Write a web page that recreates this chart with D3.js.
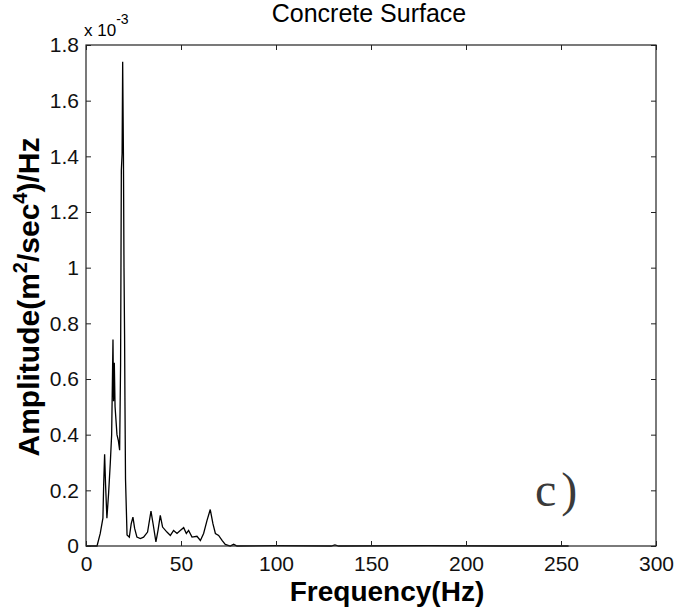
<!DOCTYPE html>
<html>
<head>
<meta charset="utf-8">
<script src="https://cdn.jsdelivr.net/npm/d3@7"></script>
<style>
	body { margin: 0; background: #fff; }
	svg text { font-family: "Liberation Sans", Arial, sans-serif; }
</style>
</head>
<body>
<div id="chart"></div>
<script>
// Frequency (Hz) and amplitude (x 1e-3 m^2/sec^4/Hz)
const freq = [0, 5.8, 7.5, 8.9, 9.3, 9.8, 10.3, 11.0, 11.9, 12.8, 13.5, 14.2, 14.5, 14.9, 15.3, 16.3, 17.0, 17.7,
	18.2, 18.6, 19.0, 19.3, 19.7, 20.0, 20.3, 20.5, 20.8, 21.6, 22.8, 23.8, 24.7, 25.6, 26.8, 28.6, 30.3, 32.4,
	34.2, 35.3, 36.8, 37.9, 39.1, 40.3, 42.6, 44.4, 46.1, 47.9, 49.6, 51.4, 52.8, 54.0, 55.8, 58.4, 60.2, 61.9,
	63.7, 65.4, 66.8, 68.1, 69.8, 71.6, 73.3, 75.9, 77.7, 79.5, 100, 129, 131, 133, 180, 220, 254]
const amp = [0, 0, 0.045, 0.10, 0.22, 0.33, 0.22, 0.10, 0.19, 0.30, 0.40, 0.742, 0.52, 0.658, 0.50, 0.40, 0.38, 0.344,
	0.65, 1.35, 1.41, 1.74, 1.41, 1.0, 0.76, 0.52, 0.24, 0.04, 0.032, 0.08, 0.104, 0.063, 0.032, 0.027, 0.032, 0.05,
	0.125, 0.08, 0.015, 0.056, 0.11, 0.068, 0.05, 0.038, 0.056, 0.045, 0.056, 0.066, 0.045, 0.056, 0.032, 0.035, 0.02, 0.045,
	0.092, 0.131, 0.08, 0.045, 0.038, 0.02, 0.006, 0, 0.006, 0, 0.001, 0, 0.004, 0, 0.001, 0, 0]
const xTicks = [0, 50, 100, 150, 200, 250, 300]
const yTicks = [0, 0.2, 0.4, 0.6, 0.8, 1, 1.2, 1.4, 1.6, 1.8]

const W = 677, H = 613
const margin = { top: 45, right: 21, bottom: 67, left: 86 }
const width = W - margin.left - margin.right
const height = H - margin.top - margin.bottom

const svg = d3.select("#chart").append("svg")
	.attr("width", W)
	.attr("height", H)

const g = svg.append("g")
	.attr("transform", `translate(${margin.left},${margin.top})`)

const x = d3.scaleLinear().domain([0, 300]).range([0, width])
const y = d3.scaleLinear().domain([0, 1.8]).range([height, 0])

// data line
const data = freq.map((f, i) => ({ f: f, a: amp[i] }))
g.append("path")
	.datum(data)
	.attr("fill", "none")
	.attr("stroke", "#000")
	.attr("stroke-width", 1.3)
	.attr("d", d3.line().x(d => x(d.f)).y(d => y(d.a)))

// box with inward ticks (matlab style)
g.append("rect")
	.attr("width", width)
	.attr("height", height)
	.attr("fill", "none")
	.attr("stroke", "#222")
	.attr("stroke-width", 1.2)

g.append("g")
	.attr("transform", `translate(0,${height})`)
	.call(d3.axisBottom(x).tickValues(xTicks).tickSize(-5).tickPadding(10).tickFormat(d3.format("d")))
g.append("g")
	.call(d3.axisTop(x).tickValues(xTicks).tickSize(-5).tickFormat(""))
g.append("g")
	.call(d3.axisLeft(y).tickValues(yTicks).tickSize(-5).tickPadding(7).tickFormat(d => d === 0 || d === 1 ? d : d.toFixed(1)))
g.append("g")
	.attr("transform", `translate(${width},0)`)
	.call(d3.axisRight(y).tickValues(yTicks).tickSize(-5).tickFormat(""))

g.selectAll(".domain").remove()
g.selectAll(".tick line").attr("stroke", "#222")
g.selectAll(".tick text")
	.attr("fill", "#111")
	.style("font-size", "21px")

// labels
svg.append("text")
	.attr("x", 369)
	.attr("y", 22)
	.attr("text-anchor", "middle")
	.style("font-size", "25px")
	.text("Concrete Surface")

svg.append("text")
	.attr("x", 387)
	.attr("y", 601)
	.attr("text-anchor", "middle")
	.style("font-size", "28px")
	.style("font-weight", "bold")
	.text("Frequency(Hz)")

const yl = svg.append("text")
	.attr("transform", `translate(39,${297}) rotate(-90)`)
	.attr("text-anchor", "middle")
	.style("font-size", "30px")
	.style("font-weight", "bold")
yl.append("tspan").text("Amplitude(m")
yl.append("tspan").attr("dy", -12).style("font-size", "20px").text("2")
yl.append("tspan").attr("dy", 12).text("/sec")
yl.append("tspan").attr("dy", -12).style("font-size", "20px").text("4")
yl.append("tspan").attr("dy", 12).text(")/Hz")

const exp = svg.append("text")
	.attr("x", 84)
	.attr("y", 36)
	.style("font-size", "17px")
exp.append("tspan").text("x 10")
exp.append("tspan").attr("dy", -12).style("font-size", "14px").text("-3")

svg.append("text")
	.attr("x", 535)
	.attr("y", 506)
	.style("font-family", "'Liberation Serif', 'Times New Roman', serif")
	.style("font-size", "48px")
	.style("letter-spacing", "5px")
	.attr("fill", "#3a3a3a")
	.text("c)")
</script>
</body>
</html>
